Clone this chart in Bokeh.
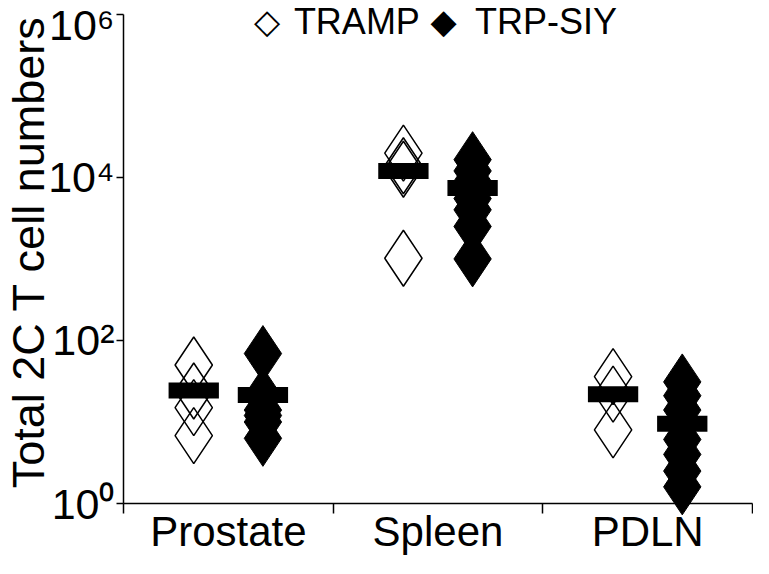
from bokeh.plotting import figure
from bokeh.models import Range1d, FixedTicker, Label, ColumnDataSource
from bokeh.embed import file_html
from bokeh.resources import INLINE

# ---- data ----
categories = ["Prostate", "Spleen", "PDLN"]
group_names = ["TRAMP", "TRP-SIY"]

tramp_prostate = [50, 24, 15, 6.8]
tramp_spleen = [19900, 13900, 12600, 1020]
tramp_pdln = [36, 22, 8]

trp_prostate = [69, 21, 14, 12, 10, 6.3]
trp_spleen = [16500, 12000, 9000, 7000, 5500, 4000, 2500, 1000]
trp_pdln = [31, 21, 14, 6.1, 4.0, 2.5, 1.6]

tramp_means = [24.4, 12000, 21.9]
trp_means = [21.4, 7400, 9.5]

y_ticks = [1, 100, 10000, 1000000]
y_tick_labels = ["10\u2070", "10\u00b2", "10\u2074", "10\u2076"]
y_title = "Total 2C T cell numbers"

# ---- layout helpers ----
OFFSET = 0.165
FONT = "Liberation Sans"


def points(groups, side):
    xs, ys = [], []
    for i, vals in enumerate(groups):
        for v in vals:
            xs.append(i + 0.5 + side * OFFSET)
            ys.append(v)
    return dict(x=xs, y=ys)


tramp_src = ColumnDataSource(points([tramp_prostate, tramp_spleen, tramp_pdln], -1))
trp_src = ColumnDataSource(points([trp_prostate, trp_spleen, trp_pdln], +1))
mean_src = ColumnDataSource(dict(
    x=[i + 0.5 - OFFSET for i in range(3)] + [i + 0.5 + OFFSET for i in range(3)],
    y=tramp_means + trp_means,
))

p = figure(
    width=753, height=558,
    x_range=Range1d(0, 3),
    y_range=Range1d(1, 10 ** 6.17),
    y_axis_type="log",
    output_backend="svg",
    toolbar_location=None,
    min_border_left=117, min_border_right=1,
    min_border_top=0, min_border_bottom=55,
)
p.outline_line_color = None
p.xgrid.visible = False
p.ygrid.visible = False
p.background_fill_color = "white"

# markers
p.scatter("x", "y", source=tramp_src, marker="diamond", size=56,
          fill_color=None, line_color="black", line_width=1.5)
p.scatter("x", "y", source=trp_src, marker="diamond", size=56,
          fill_color="black", line_color="black", line_width=1,
          level="overlay")
# mean bars
p.rect("x", "y", source=mean_src, width=0.24, height=16, height_units="screen",
       fill_color="black", line_color=None)

# y axis
ya = p.yaxis[0]
ya.ticker = FixedTicker(ticks=y_ticks)
ya.major_label_overrides = {t: l for t, l in zip(y_ticks, y_tick_labels)}
ya.bounds = (1, 1e6)
ya.axis_label = y_title
ya.axis_label_text_font = FONT
ya.axis_label_text_font_style = "normal"
ya.axis_label_text_font_size = "45px"
ya.axis_label_text_color = "black"
ya.axis_label_standoff = -9
ya.major_label_text_font = FONT
ya.major_label_text_font_size = "43px"
ya.major_label_text_color = "black"
ya.major_label_standoff = 2
ya.major_tick_out = 7
ya.major_tick_in = 0
ya.minor_tick_line_color = None
ya.axis_line_width = 1.5
ya.axis_line_color = "black"
ya.major_tick_line_width = 1.5
ya.major_tick_line_color = "black"

# x axis
xa = p.xaxis[0]
xa.ticker = FixedTicker(ticks=[0.5, 1.5, 2.5], minor_ticks=[0, 1, 2, 3])
xa.major_label_overrides = {i + 0.5: c for i, c in enumerate(categories)}
xa.major_label_text_font = FONT
xa.major_label_text_font_size = "42px"
xa.major_label_text_color = "black"
xa.major_label_standoff = -6
xa.major_tick_out = 0
xa.major_tick_in = 0
xa.minor_tick_out = 10
xa.minor_tick_in = 0
xa.minor_tick_line_width = 1.5
xa.minor_tick_line_color = "black"
xa.axis_line_width = 1.5
xa.axis_line_color = "black"

# legend (key symbols and names as text)
leg_y = 10 ** 5.913
p.add_layout(Label(x=0.685, y=leg_y, text="\u25c7", text_font="DejaVu Sans",
                   text_font_style="bold",
                   text_font_size="34px", text_align="center", text_baseline="middle",
                   text_color="black"))
p.add_layout(Label(x=0.8126, y=leg_y, text=group_names[0], text_font=FONT,
                   text_font_size="36px", text_align="left", text_baseline="middle",
                   text_color="black"))
p.add_layout(Label(x=1.526, y=leg_y, text="\u25c6", text_font="DejaVu Sans",
                   text_font_size="34px", text_align="center", text_baseline="middle",
                   text_color="black"))
p.add_layout(Label(x=1.677, y=leg_y, text=group_names[1], text_font=FONT,
                   text_font_size="36px", text_align="left", text_baseline="middle",
                   text_color="black"))

open("out.html", "w").write(file_html(p, INLINE))
